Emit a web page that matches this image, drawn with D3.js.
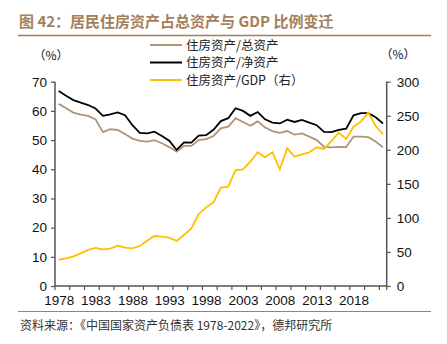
<!DOCTYPE html>
<html><head><meta charset="utf-8">
<script src="https://cdn.jsdelivr.net/npm/d3@7"></script>
<style>body{margin:0;background:#fff}svg{display:block}</style>
</head><body><svg id="c" width="447" height="344"></svg>
<script>
const years = d3.range(1978, 2023);
const totalShare = [62.4,60.9,59.4,58.7,58.3,57.1,52.7,53.7,53.5,52.1,50.5,49.7,49.5,50.0,48.9,47.6,46.0,48.0,48.0,50.0,50.3,51.4,54.0,54.6,57.5,56.2,54.9,56.4,54.3,53.1,52.5,53.1,51.9,52.3,51.2,50.0,47.7,47.5,47.7,47.6,51.2,51.2,51.0,49.5,47.5];
const netShare = [66.8,65.2,63.7,62.8,62.0,60.8,58.3,58.8,59.5,58.5,55.1,52.5,52.3,52.9,51.4,49.8,46.6,49.2,49.1,51.5,51.7,53.5,56.5,57.5,60.9,60.0,58.3,59.6,57.1,56.0,55.7,57.0,56.2,56.9,56.0,55.1,52.8,52.7,53.5,53.9,58.5,59.2,59.2,57.8,55.7];
const gdpRatio = [38.6,40.6,43.6,48.0,52.9,55.8,53.9,54.8,59.2,56.2,55.3,58.7,66.5,73.4,72.4,70.9,66.1,74.9,84.7,105.7,115.5,122.9,144.4,145.8,170.3,171.3,182.5,196.3,189.0,196.3,171.3,202.2,189.9,193.4,196.3,203.7,201.2,212.9,225.1,215.9,233.9,241.3,254.5,234.9,222.8];
const leftTicks = [0,10,20,30,40,50,60,70];
const rightTicks = [0,50,100,150,200,250,300];
const xLabels = [1978,1983,1988,1993,1998,2003,2008,2013,2018];
const seriesNames = ["住房资产/总资产","住房资产/净资产","住房资产/GDP（右）"];
const colors = ["#b09478","#000000","#ffc000"];
const titleText = "图 42：居民住房资产占总资产与 GDP 比例变迁";
const sourceText = "资料来源：《中国国家资产负债表 1978-2022》，德邦研究所";

const svg = d3.select("#c");
const L = 55, R = 386.7, T = 81.7, B = 286;
const brown = "#a57e5c";
const axisColor = "#555";
const numFont = "'Liberation Sans', Arial, sans-serif";
const cjk = "'Noto Sans CJK SC', sans-serif";

const x = d3.scalePoint().domain(years).range([L, R]).padding(0.5);
const yL = d3.scaleLinear().domain([0,70]).range([B, T]);
const yR = d3.scaleLinear().domain([0,300]).range([B, T]);

// title
svg.append("text").attr("x",19).attr("y",27).text(titleText)
  .attr("font-family",cjk).attr("font-weight","bold").attr("font-size",15).attr("fill",brown);
svg.append("line").attr("x1",18).attr("x2",431).attr("y1",35.5).attr("y2",35.5)
  .attr("stroke",brown).attr("stroke-width",1.5);

// left axis
const gL = svg.append("g").attr("transform",`translate(${L},0)`)
  .call(d3.axisLeft(yL).tickValues(leftTicks).tickSize(4).tickPadding(4).tickFormat(d3.format("d")));
// right axis
const gR = svg.append("g").attr("transform",`translate(${R},0)`)
  .call(d3.axisRight(yR).tickValues(rightTicks).tickSize(4).tickPadding(6).tickFormat(d3.format("d")));
[gL,gR].forEach(g=>{
  g.select(".domain").attr("stroke",axisColor).attr("stroke-width",1.5).attr("d",`M0,${T}V${B}`);
  g.selectAll(".tick line").attr("stroke",axisColor).attr("stroke-width",1.2);
  g.selectAll("text").attr("font-family",numFont).attr("font-size",13.5).attr("fill","#111");
});

// bottom axis
const gB = svg.append("g").attr("transform",`translate(0,${B})`)
  .call(d3.axisBottom(x).tickValues(xLabels).tickSize(0).tickPadding(9));
gB.select(".domain").attr("stroke",axisColor).attr("stroke-width",1.5).attr("d",`M${L},0H${R}`);
gB.selectAll("text").attr("font-family",numFont).attr("font-size",13.5).attr("fill","#111");
const step = x.step();
const bTicks = years.filter((d,i)=>i%2===0).map(d=>x(d)-step/2).concat([R]);
gB.selectAll(".btick").data(bTicks).enter().append("line")
  .attr("x1",d=>d).attr("x2",d=>d).attr("y1",0).attr("y2",4)
  .attr("stroke",axisColor).attr("stroke-width",1.2);

// unit labels
svg.append("text").attr("x",51).attr("y",60).attr("text-anchor","middle").text("（%）")
  .attr("font-family",cjk).attr("font-size",12).attr("fill","#111");
svg.append("text").attr("x",398).attr("y",59).attr("text-anchor","middle").text("（%）")
  .attr("font-family",cjk).attr("font-size",12).attr("fill","#111");

// lines
const lineL = d3.line().x((d,i)=>x(years[i])).y(d=>yL(d));
const lineR = d3.line().x((d,i)=>x(years[i])).y(d=>yR(d));
svg.append("path").datum(totalShare).attr("d",lineL).attr("fill","none").attr("stroke",colors[0]).attr("stroke-width",1.8);
svg.append("path").datum(netShare).attr("d",lineL).attr("fill","none").attr("stroke",colors[1]).attr("stroke-width",1.8);
svg.append("path").datum(gdpRatio).attr("d",lineR).attr("fill","none").attr("stroke",colors[2]).attr("stroke-width",1.8);

// legend
const lg = svg.append("g");
seriesNames.forEach((n,i)=>{
  const yy = 45 + i*17.5;
  lg.append("line").attr("x1",150).attr("x2",182).attr("y1",yy).attr("y2",yy)
    .attr("stroke",colors[i]).attr("stroke-width",2);
  lg.append("text").attr("x",186).attr("y",yy+4.5).text(n)
    .attr("font-family",cjk).attr("font-size",12.5).attr("fill","#222");
});

// bottom rule and source
svg.append("line").attr("x1",18).attr("x2",431).attr("y1",311.5).attr("y2",311.5)
  .attr("stroke",brown).attr("stroke-width",1.2);
svg.append("text").attr("x",20).attr("y",330).text(sourceText)
  .attr("font-family",cjk).attr("font-size",12).attr("fill","#333");
</script></body></html>
